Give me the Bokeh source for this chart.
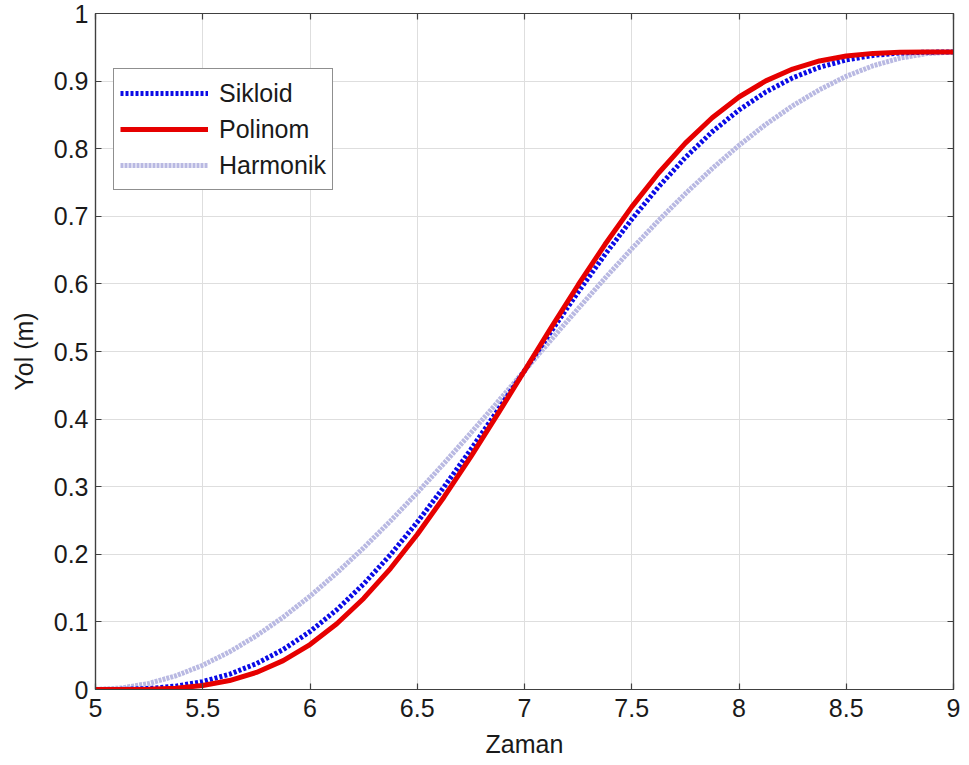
from bokeh.plotting import figure
from bokeh.models import Legend, LegendItem, LinearAxis, FixedTicker, Range1d
from bokeh.embed import file_html
from bokeh.resources import INLINE

# ---- data ----
zaman = [5.0, 5.125, 5.25, 5.375, 5.5, 5.625, 5.75, 5.875, 6.0, 6.125, 6.25, 6.375,
         6.5, 6.625, 6.75, 6.875, 7.0, 7.125, 7.25, 7.375, 7.5, 7.625, 7.75, 7.875,
         8.0, 8.125, 8.25, 8.375, 8.5, 8.625, 8.75, 8.875, 9.0]
sikloid = [0.0, 0.0002, 0.0015, 0.0050, 0.0117, 0.0226, 0.0382, 0.0591, 0.0857, 0.1180,
           0.1560, 0.1994, 0.2475, 0.2997, 0.3551, 0.4128, 0.4715, 0.5302, 0.5879, 0.6433,
           0.6955, 0.7436, 0.7870, 0.8250, 0.8573, 0.8839, 0.9048, 0.9204, 0.9313, 0.9380,
           0.9415, 0.9428, 0.943]
polinom = [0.0, 0.0000, 0.0004, 0.0020, 0.0059, 0.0132, 0.0252, 0.0427, 0.0665, 0.0972,
           0.1347, 0.1789, 0.2292, 0.2848, 0.3446, 0.4073, 0.4715, 0.5357, 0.5984, 0.6582,
           0.7139, 0.7641, 0.8083, 0.8458, 0.8765, 0.9003, 0.9178, 0.9298, 0.9371, 0.9410,
           0.9426, 0.9430, 0.943]
harmonik = [0.0, 0.0023, 0.0091, 0.0203, 0.0359, 0.0557, 0.0795, 0.1070, 0.1381, 0.1724,
            0.2095, 0.2492, 0.2911, 0.3346, 0.3795, 0.4253, 0.4715, 0.5177, 0.5635, 0.6084,
            0.6519, 0.6938, 0.7335, 0.7706, 0.8049, 0.8360, 0.8635, 0.8873, 0.9071, 0.9227,
            0.9339, 0.9407, 0.943]

x_ticks = [5, 5.5, 6, 6.5, 7, 7.5, 8, 8.5, 9]
x_tick_labels = ["5", "5.5", "6", "6.5", "7", "7.5", "8", "8.5", "9"]
y_ticks = [0, 0.1, 0.2, 0.3, 0.4, 0.5, 0.6, 0.7, 0.8, 0.9, 1]
y_tick_labels = ["0", "0.1", "0.2", "0.3", "0.4", "0.5", "0.6", "0.7", "0.8", "0.9", "1"]

FONT = "Liberation Sans"
AXIS_COL = "#404040"
FS = "25px"

p = figure(width=961, height=764, output_backend="svg", toolbar_location=None,
           x_range=Range1d(5, 9), y_range=Range1d(0, 1),
           min_border_left=95, min_border_right=8, min_border_top=13, min_border_bottom=75)

p.background_fill_color = "white"
p.border_fill_color = "white"
p.outline_line_color = AXIS_COL
p.outline_line_width = 1.2

# grid
for g in (p.xgrid, p.ygrid):
    g.grid_line_color = "#dedede"
    g.grid_line_width = 1
p.xgrid.ticker = FixedTicker(ticks=x_ticks)
p.ygrid.ticker = FixedTicker(ticks=y_ticks)

def style_axis(ax, ticks, labels, show_labels=True):
    ax.ticker = FixedTicker(ticks=ticks)
    ax.major_label_overrides = {t: l for t, l in zip(ticks, labels)}
    ax.axis_line_color = AXIS_COL
    ax.axis_line_width = 1.2
    ax.major_tick_line_color = AXIS_COL
    ax.major_tick_line_width = 1.2
    ax.major_tick_in = 6
    ax.major_tick_out = 0
    ax.minor_tick_line_color = None
    ax.major_label_text_font = FONT
    ax.major_label_text_font_size = FS
    ax.major_label_text_color = "#1a1a1a"
    ax.axis_label_text_font = FONT
    ax.axis_label_text_font_size = FS
    ax.axis_label_text_font_style = "normal"
    ax.axis_label_text_color = "#1a1a1a"
    if not show_labels:
        ax.major_label_text_font_size = "0px"
        ax.major_label_text_alpha = 0

xa = p.xaxis[0]
ya = p.yaxis[0]
style_axis(xa, x_ticks, x_tick_labels)
style_axis(ya, y_ticks, y_tick_labels)
xa.axis_label = "Zaman"
ya.axis_label = "Yol (m)"
xa.major_label_standoff = 9
ya.major_label_standoff = 7
xa.axis_label_standoff = 10
ya.axis_label_standoff = 13

top_ax = LinearAxis()
style_axis(top_ax, x_ticks, x_tick_labels, show_labels=False)
top_ax.major_label_standoff = 0
p.add_layout(top_ax, "above")
right_ax = LinearAxis()
style_axis(right_ax, y_ticks, y_tick_labels, show_labels=False)
right_ax.major_label_standoff = 0
p.add_layout(right_ax, "right")

# lines (harmonic first, then cycloid, polynomial on top)
r_h = p.line(zaman, harmonik, line_color="#b9b9e2", line_width=5, line_dash="3 1")
r_s = p.line(zaman, sikloid, line_color="#0a0ae6", line_width=5, line_dash="3 2")
r_p = p.line(zaman, polinom, line_color="#e60000", line_width=5)

legend = Legend(items=[LegendItem(label="Sikloid", renderers=[r_s]),
                       LegendItem(label="Polinom", renderers=[r_p]),
                       LegendItem(label="Harmonik", renderers=[r_h])],
                location=(18, 499))
legend.border_line_color = "#202020"
legend.border_line_width = 1.2
legend.background_fill_color = "white"
legend.background_fill_alpha = 1
legend.padding = 6
legend.spacing = 0
legend.margin = 0
legend.glyph_width = 88
legend.glyph_height = 36
legend.label_height = 36
legend.label_standoff = 11
legend.label_text_font = FONT
legend.label_text_font_size = FS
legend.label_text_color = "#1a1a1a"
p.add_layout(legend, "center")

open("out.html", "w").write(file_html(p, INLINE))
